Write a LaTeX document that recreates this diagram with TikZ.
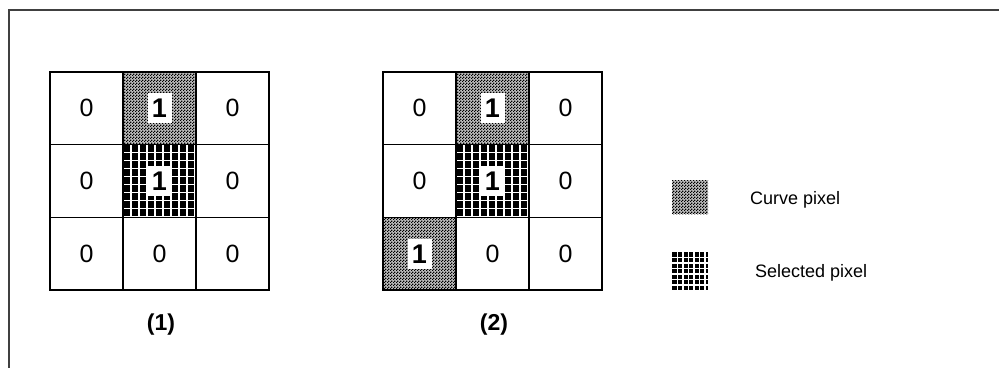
\documentclass[tikz,border=0pt]{standalone}
\usepackage{fontspec}
\setmainfont{Liberation Sans}
\usetikzlibrary{patterns,calc}
\pgfdeclarepatternformonly{curvepat}{\pgfpointorigin}{\pgfqpoint{3pt}{3pt}}{\pgfqpoint{3pt}{3pt}}{%
  \pgfpathrectangle{\pgfpointorigin}{\pgfqpoint{1.5pt}{1.5pt}}%
  \pgfpathrectangle{\pgfqpoint{1.5pt}{1.5pt}}{\pgfqpoint{1.5pt}{1.5pt}}%
  \pgfusepath{fill}}
\begin{document}
\begin{tikzpicture}[x=1pt,y=-1pt,
  selfill/.style={path picture={
    \coordinate (ppnw) at (path picture bounding box.north west);
    \coordinate (ppse) at (path picture bounding box.south east);
    \fill[black] (ppnw) rectangle (ppse);
    \foreach \k in {1,...,14} {
      \draw[white, line width=1.5pt] ($(ppnw)+({\k*#1},-2)$) -- ++(0,80);
      \draw[white, line width=1.5pt] ($(ppnw)+(-2,{\k*#1})$) -- ++(80,0);
    }}},
  cell/.style={draw, line width=1.3pt, minimum width=73pt, minimum height=72.7pt,
    inner sep=0pt, font=\fontsize{25}{25}\selectfont},
  curvecell/.style={cell, fill=black!25, postaction={pattern=curvepat}},
  selcell/.style={cell, selfill=8},
  onebox/.style={fill=white, inner sep=0pt, minimum width=24pt, minimum height=30pt,
    font=\fontsize{27}{27}\selectfont\bfseries},
  swatchc/.style={fill=black!25, postaction={pattern=curvepat}, minimum width=36pt,
    minimum height=34pt, inner sep=0pt},
  swatchs/.style={selfill=5.5, minimum width=36pt, minimum height=38pt, inner sep=0pt},
  caption/.style={font=\fontsize{23}{23}\selectfont\bfseries},
  legend/.style={font=\fontsize{18}{18}\selectfont, anchor=west, inner sep=0pt},
  frame/.style={draw=black!75, line width=2pt}]
\useasboundingbox (0,0) rectangle (999,367);
\coordinate (fr1) at (1005,10);
\coordinate (fr2) at (9,10);
\coordinate (fr3) at (9,375);
\draw[frame] (fr1) -- (fr2) -- (fr3);
% grid 1
\node[cell]      (a00) at (86.5,108.35) {0};
\node[curvecell] (a01) at (159.5,108.35) {};
\node[cell]      (a02) at (232.5,108.35) {0};
\node[cell]      (a10) at (86.5,181.05) {0};
\node[selcell]   (a11) at (159.5,181.05) {};
\node[cell]      (a12) at (232.5,181.05) {0};
\node[cell]      (a20) at (86.5,253.75) {0};
\node[cell]      (a21) at (159.5,253.75) {0};
\node[cell]      (a22) at (232.5,253.75) {0};
\node[onebox] (a01t) at (a01) {1};
\node[onebox] (a11t) at (a11) {1};
\node[caption] (cap1) at (161,325) {(1)};
% grid 2
\node[cell]      (b00) at (419.5,108.35) {0};
\node[curvecell] (b01) at (492.5,108.35) {};
\node[cell]      (b02) at (565.5,108.35) {0};
\node[cell]      (b10) at (419.5,181.05) {0};
\node[selcell]   (b11) at (492.5,181.05) {};
\node[cell]      (b12) at (565.5,181.05) {0};
\node[curvecell] (b20) at (419.5,253.75) {};
\node[cell]      (b21) at (492.5,253.75) {0};
\node[cell]      (b22) at (565.5,253.75) {0};
\node[onebox] (b01t) at (b01) {1};
\node[onebox] (b11t) at (b11) {1};
\node[onebox] (b20t) at (b20) {1};
\node[caption] (cap2) at (494,325) {(2)};
% legend
\node[swatchc] (lc) at (690,197) {};
\node[swatchs] (ls) at (690,271) {};
\node[legend] (lct) at (750,200) {Curve pixel};
\node[legend] (lst) at (755,273) {Selected pixel};
\end{tikzpicture}
\end{document}
